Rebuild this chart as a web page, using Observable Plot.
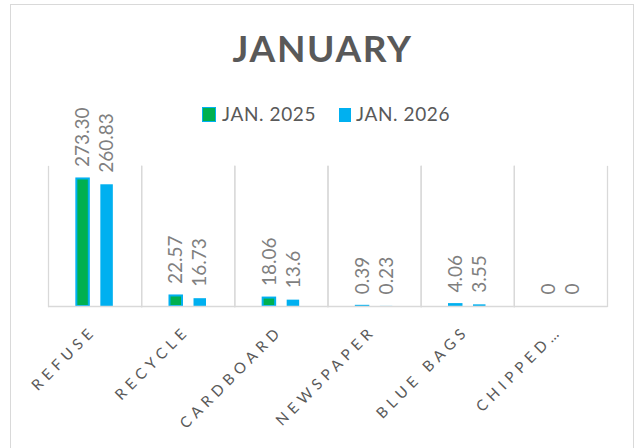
<!DOCTYPE html>
<html>
<head>
<meta charset="utf-8">
<script src="https://cdn.jsdelivr.net/npm/d3@7"></script>
<script src="https://cdn.jsdelivr.net/npm/@observablehq/plot@0.6"></script>
<style>
  html, body { margin: 0; padding: 0; background: #fff; }
  #wrap { position: relative; width: 635px; height: 448px; overflow: hidden; background: #fff; font-family: Lato, "Open Sans", sans-serif; }
  #border { position: absolute; left: 10px; top: 4px; width: 624px; height: 470px; border: 1.5px solid #d9d9d9; box-sizing: border-box; }
  #title { position: absolute; left: 0; top: 29px; width: 635px; text-align: center; font-size: 37px; line-height: 1; font-weight: 700; color: #595959; letter-spacing: 1.6px; padding-left: 10px; box-sizing: border-box; }
  .leg { position: absolute; top: 104px; font-size: 19px; line-height: 1; color: #595959; letter-spacing: 0.6px; white-space: nowrap; }
  .sw { position: absolute; box-sizing: border-box; }
  #chart { position: absolute; left: 0; top: 0; }
  #chart g[aria-label="fx-axis tick label"] text { letter-spacing: 5px; }
</style>
</head>
<body>
<div id="wrap">
  <div id="border"></div>
  <div id="title">JANUARY</div>
  <div id="legend"></div>
  <div id="chart"></div>
</div>
<script>
const title = "JANUARY";
const categories = ["REFUSE", "RECYCLE", "CARDBOARD", "NEWSPAPER", "BLUE BAGS", "CHIPPED…"];
const series = ["JAN. 2025", "JAN. 2026"];
const jan2025 = [273.30, 22.57, 18.06, 0.39, 4.06, 0];
const jan2026 = [260.83, 16.73, 13.6, 0.23, 3.55, 0];
const labels2025 = ["273.30", "22.57", "18.06", "0.39", "4.06", "0"];
const labels2026 = ["260.83", "16.73", "13.6", "0.23", "3.55", "0"];
const colors = ["#00b050", "#00b0f0"];

const rows = [];
categories.forEach((c, i) => {
  rows.push({category: c, series: series[0], value: jan2025[i], label: labels2025[i]});
  rows.push({category: c, series: series[1], value: jan2026[i], label: labels2026[i]});
});

// legend
const legend = document.getElementById("legend");
const legPos = [{sw: 202, tx: 222}, {sw: 339, tx: 356}];
series.forEach((s, i) => {
  const sw = document.createElement("div");
  sw.className = "sw";
  sw.style.left = legPos[i].sw + "px";
  sw.style.top = (i === 0 ? 107 : 108) + "px";
  sw.style.width = (i === 0 ? 14 : 12) + "px";
  sw.style.height = (i === 0 ? 15 : 14) + "px";
  sw.style.background = colors[i];
  if (i === 0) sw.style.border = "1.5px solid " + colors[1];
  legend.appendChild(sw);
  const t = document.createElement("div");
  t.className = "leg";
  t.style.left = legPos[i].tx + "px";
  t.textContent = s;
  legend.appendChild(t);
});
document.getElementById("title").textContent = title;

const chart = Plot.plot({
  width: 635,
  height: 448,
  marginLeft: 48,
  marginRight: 28,
  marginTop: 166,
  marginBottom: 142,
  style: {background: "transparent", fontFamily: "Lato, 'Open Sans', sans-serif"},
  fx: {domain: categories, padding: 0, round: false, label: null, axis: null},
  x: {domain: series, paddingInner: 0.48, paddingOuter: 1.18, round: false, axis: null},
  y: {domain: [0, 300], axis: null},
  marks: [
    Plot.frame({anchor: "left", stroke: "#d9d9d9", strokeWidth: 1.3}),
    Plot.frame({anchor: "right", stroke: "#d9d9d9", strokeWidth: 1.3}),
    Plot.barY(rows.filter(d => d.series === series[0]), {fx: "category", x: "series", y: "value", fill: colors[0], stroke: colors[1], strokeWidth: 2}),
    Plot.barY(rows.filter(d => d.series === series[1]), {fx: "category", x: "series", y: "value", fill: colors[1]}),
    Plot.ruleY([0], {stroke: "#d9d9d9", strokeWidth: 1.5}),
    Plot.text(rows, {fx: "category", x: "series", y: "value", text: "label", rotate: -90, textAnchor: "start", dy: -12, fill: "#7f7f7f", fontSize: 19}),
    Plot.axisFx({anchor: "bottom", tickRotate: -45, tickSize: 0, fontSize: 15, fill: "#595959", label: null, dx: -1, dy: 10})
  ]
});
document.getElementById("chart").appendChild(chart);
</script>
</body>
</html>
